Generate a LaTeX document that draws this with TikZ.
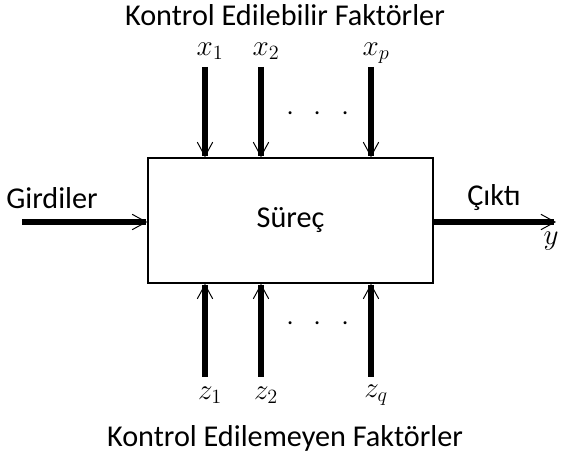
\documentclass[tikz,border=0pt]{standalone}
\usepackage{amsmath}
\usepackage{fontspec}
\setmainfont{Carlito}
\usetikzlibrary{arrows.meta}

\begin{document}
\begin{tikzpicture}[x=0.025cm,y=-0.025cm,
  akis/.style={line width=3.8pt,-{Straight Barb[line width=0.7pt,length=10pt,width=11pt]}},
  yazi/.style={font=\fontsize{21.5}{24}\selectfont},
  degisken/.style={font=\fontsize{20}{22}\selectfont,inner sep=0pt}]

\useasboundingbox (0,0) rectangle (561,457);

% süreç kutusu
\node[draw,line width=1.1pt,minimum width=285*0.025cm,minimum height=125*0.025cm,yazi] (surec) at (290.5,220.5) {Süreç};

% kontrol edilebilir faktörler
\node[yazi] (ust) at (285,15) {Kontrol Edilebilir Faktörler};
\node[degisken] (x1) at (210,51) {$x_1$};
\node[degisken] (x2) at (266,51) {$x_2$};
\node[degisken] (xp) at (376,53) {$x_p$};
\coordinate (bx1) at (205,67);
\coordinate (bx2) at (261,67);
\coordinate (bxp) at (371,67);
\draw[akis] (bx1) -- (bx1 |- surec.north);
\draw[akis] (bx2) -- (bx2 |- surec.north);
\draw[akis] (bxp) -- (bxp |- surec.north);
\node[degisken] (nokta1) at (318,114) {$\cdot\,\;\cdot\,\;\cdot$};

% kontrol edilemeyen faktörler
\node[yazi] (alt) at (285,438) {Kontrol Edilemeyen Faktörler};
\node[degisken] (z1) at (210,395) {$z_1$};
\node[degisken] (z2) at (266,395) {$z_2$};
\node[degisken] (zq) at (376,395) {$z_q$};
\coordinate (bz1) at (205,377);
\coordinate (bz2) at (261,377);
\coordinate (bzq) at (371,377);
\draw[akis] (bz1) -- (bz1 |- surec.south);
\draw[akis] (bz2) -- (bz2 |- surec.south);
\draw[akis] (bzq) -- (bzq |- surec.south);
\node[degisken] (nokta2) at (318,324) {$\cdot\,\;\cdot\,\;\cdot$};

% girdi ve çıktı
\coordinate (giris) at (22,222);
\coordinate (cikis) at (556,222);
\draw[akis] (giris) -- (giris -| surec.west);
\draw[akis] (cikis -| surec.east) -- (cikis);
\node[yazi] (girdi) at (52,198) {Girdiler};
\node[yazi] (cikti) at (494,198) {Çıktı};
\node[degisken] (y) at (551,241) {$y$};

\end{tikzpicture}
\end{document}
